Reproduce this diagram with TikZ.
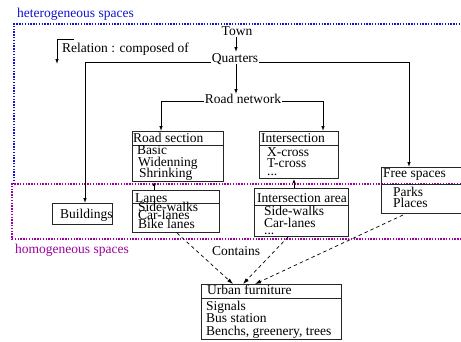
\documentclass[tikz,border=0pt]{standalone}
\usepackage{fontspec}
\setmainfont{Liberation Serif}
\usetikzlibrary{arrows.meta}
\definecolor{hetblue}{RGB}{20,20,210}
\definecolor{hompurple}{RGB}{160,0,160}
\tikzset{
  txt/.style={inner sep=0pt, anchor=base west, font=\rmfamily\fontsize{13.5}{13.5}\selectfont},
  ctxt/.style={inner sep=0pt, anchor=base, font=\rmfamily\fontsize{13.5}{13.5}\selectfont},
  boxline/.style={draw=black!85, line width=0.9pt},
  rel/.style={line width=0.8pt, -{Latex[length=5pt,width=3.5pt]}},
  cont/.style={line width=0.7pt, dash pattern=on 3.5pt off 3pt, -{Latex[length=6pt,width=4pt]}},
  hetbox/.style={draw=hetblue, line width=2pt, dash pattern=on 1.4pt off 1.4pt},
  hombox/.style={draw=hompurple, line width=2pt, dash pattern=on 1.4pt off 1.4pt},
}
\begin{document}
\begin{tikzpicture}[x=1pt,y=-1pt]
\useasboundingbox (0,0) rectangle (461,341);
\fill[white] (0,0) rectangle (461,341);

% spaces
\draw[hetbox] (14,184) -- (14,24) -- (475,24);
\draw[hombox] (475,184) -- (12,184) -- (12,239) -- (475,239);
\node[txt, text=hetblue] (het) at (17,17) {heterogeneous spaces};
\node[txt, text=hompurple] (hom) at (15,253) {homogeneous spaces};

% legend
\coordinate (lg1) at (74,39);
\coordinate (lg2) at (57,39);
\coordinate (lg3) at (57,64);
\draw[rel] (lg1) -- (lg2) -- (lg3);
\node[txt] (legend) at (62,52) {Relation : composed of};

% top hierarchy
\node[ctxt] (town) at (237,35) {Town};
\node[ctxt] (quarters) at (235,62) {Quarters};
\node[ctxt] (roadnet) at (243,103) {Road network};
\coordinate (t1) at (236,37);
\coordinate (q1) at (236,52);
\coordinate (q2) at (236,64);
\coordinate (r1) at (236,94);
\draw[rel] (t1) -- (q1);
\draw[rel] (q2) -- (r1);

% boxes
\node[boxline, minimum width=60pt, minimum height=21pt, inner sep=0pt, anchor=north west] (build) at (52,203) {};
\node[txt] (buildt) at (60,218) {Buildings};

\node[boxline, minimum width=91pt, minimum height=50pt, inner sep=0pt, anchor=north west] (road) at (132,131) {};
\draw[boxline] (132,145) -- (223,145);
\node[txt] (roadh) at (133,142) {Road section};
\node[txt] (road1) at (137,154) {Basic};
\node[txt] (road2) at (138,166) {Widenning};
\node[txt] (road3) at (139,177) {Shrinking};

\node[boxline, minimum width=79pt, minimum height=47pt, inner sep=0pt, anchor=north west] (inter) at (259,131) {};
\draw[boxline] (259,145) -- (338,145);
\node[txt] (interh) at (261,142) {Intersection};
\node[txt] (inter1) at (267,156) {X-cross};
\node[txt] (inter2) at (267,167) {T-cross};
\node[txt] (inter3) at (267,175) {...};

\node[boxline, minimum width=87pt, minimum height=42pt, inner sep=0pt, anchor=north west] (lanes) at (132,190) {};
\draw[boxline] (132,203) -- (219,203);
\node[txt] (lanesh) at (135,202) {Lanes};
\node[txt] (lanes1) at (138,211) {Side-walks};
\node[txt] (lanes2) at (138,219) {Car-lanes};
\node[txt] (lanes3) at (138,228) {Bike lanes};

\node[boxline, minimum width=94pt, minimum height=48pt, inner sep=0pt, anchor=north west] (area) at (254,188) {};
\draw[boxline] (254,205) -- (348,205);
\node[txt] (areah) at (257,202) {Intersection area};
\node[txt] (area1) at (264,215) {Side-walks};
\node[txt] (area2) at (264,227) {Car-lanes};
\node[txt] (area3) at (264,234) {...};

\node[boxline, minimum width=86pt, minimum height=46pt, inner sep=0pt, anchor=north west] (free) at (381,167) {};
\draw[boxline] (381,184) -- (467,184);
\node[txt] (freeh) at (383,177) {Free spaces};
\node[txt] (free1) at (393,196) {Parks};
\node[txt] (free2) at (393,207) {Places};

\node[boxline, minimum width=140pt, minimum height=55pt, inner sep=0pt, anchor=north west] (urban) at (201,284) {};
\draw[boxline] (201,298) -- (341,298);
\node[txt] (urbanh) at (207,294) {Urban furniture};
\node[txt] (urban1) at (206,310) {Signals};
\node[txt] (urban2) at (206,322) {Bus station};
\node[txt] (urban3) at (206,335) {Benchs, greenery, trees};

% composition connectors
\draw[rel] (quarters.west) ++(-1pt,-4pt) -| (build.north -| 85,0);
\draw[rel] (quarters.east) ++(1pt,-4pt) -| (free.north -| 409,0);
\draw[rel] (roadnet.west) ++(-1pt,-3pt) -| (road.north -| 161,0);
\draw[rel] (roadnet.east) ++(1pt,-3pt) -| (inter.north -| 323,0);
\draw[rel, -{Latex[length=4pt,width=3pt]}] (lanes.north -| 154,0) -- (road.south -| 154,0);
\draw[rel, -{Latex[length=4pt,width=3pt]}] (area.north -| 294,0) -- (inter.south -| 294,0);

% contains
\coordinate (c1) at (177,233);
\coordinate (c2) at (288,237);
\coordinate (c3) at (403,215);
\draw[cont] (c1) -- (urban.north -| 233,0);
\draw[cont] (c2) -- (urban.north -| 243,0);
\draw[cont] (c3) -- (urban.north -| 255,0);
\node[txt] (contains) at (212,255) {Contains};
\end{tikzpicture}
\end{document}
